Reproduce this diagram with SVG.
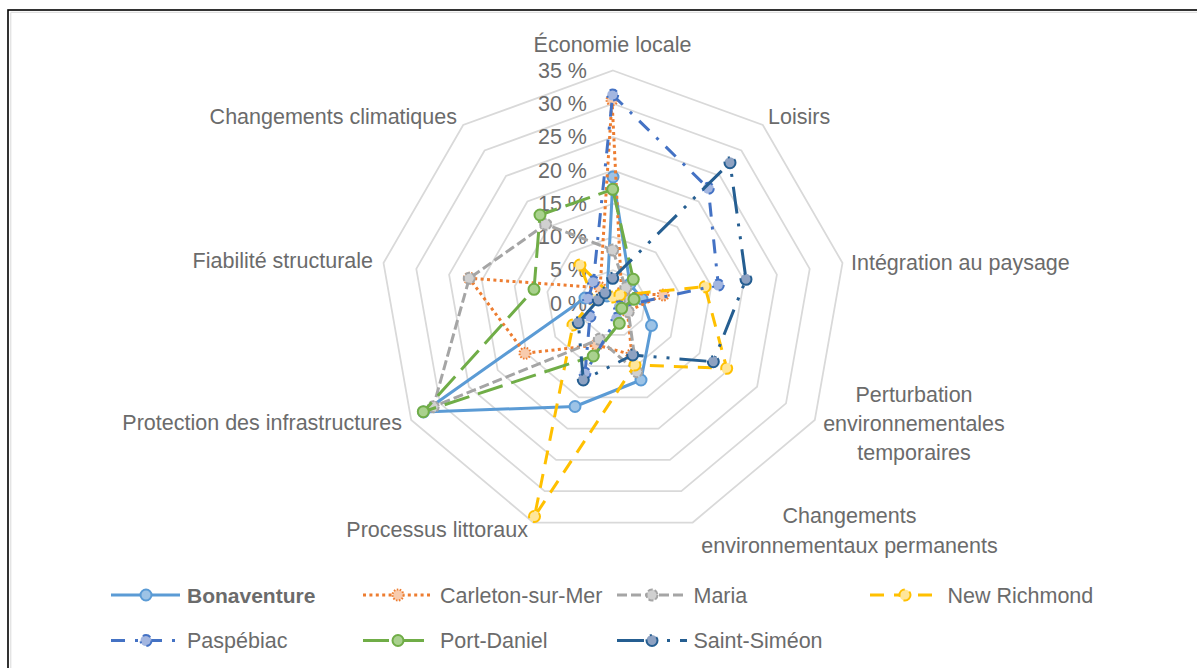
<svg xmlns="http://www.w3.org/2000/svg" width="1197" height="668" viewBox="0 0 1197 668">
<style>
.grid{fill:none;stroke:#D9D9D9;stroke-width:1.75;stroke-linejoin:miter}
.lbl{font-family:"Liberation Sans",Arial,sans-serif;font-size:21.5px;fill:#6b6b6b}
.pct{text-anchor:end}
.mid{text-anchor:middle}
.end{text-anchor:end}
.s{fill:none;stroke-width:3;stroke-linejoin:round}
.bon{stroke:#5B9BD5}
.car{stroke:#ED7D31;stroke-dasharray:3 3.4}
.mar{stroke:#A5A5A5;stroke-dasharray:10 4}
.nr{stroke:#FFC000;stroke-dasharray:14 10}
.pas{stroke:#4472C4;stroke-dasharray:14 10 3 10}
.pd{stroke:#70AD47;stroke-dasharray:26 9}
.ss{stroke:#255E91;stroke-dasharray:27 10 3 10 3 10}
.m{stroke-width:2}
.mbon{fill:#9DC3E6;stroke:#5B9BD5}
.mcar{fill:#F8CBAD;stroke:#ED7D31;stroke-dasharray:1.5 1.5}
.mmar{fill:#D0D0D0;stroke:#A5A5A5;stroke-dasharray:5 2}
.mnr{fill:#FFE699;stroke:#FFC000;stroke-dasharray:10 5}
.mpas{fill:#A3B6E0;stroke:#4472C4;stroke-dasharray:8 6 2 6}
.mpd{fill:#A9D18E;stroke:#70AD47}
.mss{fill:#8EA2C2;stroke:#255E91;stroke-dasharray:18 5 2 5}
</style>
<rect x="0" y="0" width="1197" height="668" fill="#ffffff"/>
<rect x="8" y="10" width="1200" height="700" fill="#ffffff" stroke="#000000" stroke-width="1.6"/>
<path d="M10.8,668 V12.3 H1197" fill="none" stroke="#D9D9D9" stroke-width="1"/>

<g id="grid">
<polygon class="grid" points="613,270.2 634.4,278 645.8,297.7 641.8,320.1 624.4,334.8 601.6,334.8 584.2,320.1 580.2,297.7 591.6,278"/>
<polygon class="grid" points="613,236.9 655.8,252.5 678.6,291.9 670.7,336.8 635.8,366.1 590.2,366.1 555.3,336.8 547.4,291.9 570.2,252.5"/>
<polygon class="grid" points="613,203.6 677.2,227 711.3,286.2 699.5,353.4 647.2,397.3 578.8,397.3 526.5,353.4 514.7,286.2 548.8,227"/>
<polygon class="grid" points="613,170.4 698.6,201.5 744.1,280.4 728.3,370.1 658.5,428.6 567.5,428.6 497.7,370.1 481.9,280.4 527.4,201.5"/>
<polygon class="grid" points="613,137.1 720,176 776.9,274.6 757.1,386.7 669.9,459.9 556.1,459.9 468.9,386.7 449.1,274.6 506,176"/>
<polygon class="grid" points="613,103.8 741.4,150.5 809.7,268.8 786,403.4 681.3,491.2 544.7,491.2 440,403.4 416.3,268.8 484.6,150.5"/>
<polygon class="grid" points="613,70.5 762.8,125 842.5,263 814.8,420 692.7,522.5 533.3,522.5 411.2,420 383.5,263 463.2,125"/>
</g>

<g id="scale" class="lbl pct">
<text x="587" y="310.7">0 %</text>
<text x="587" y="277.4">5 %</text>
<text x="587" y="244.1">10 %</text>
<text x="587" y="210.8">15 %</text>
<text x="587" y="177.5">20 %</text>
<text x="587" y="144.2">25 %</text>
<text x="587" y="110.9">30 %</text>
<text x="587" y="77.6">35 %</text>
</g>

<g id="axis-labels" class="lbl">
<text class="mid" x="612.5" y="51.5">Économie locale</text>
<text x="768" y="123.5">Loisirs</text>
<text x="851" y="269.5">Intégration au paysage</text>
<text class="mid" x="914" y="402">Perturbation</text>
<text class="mid" x="914" y="431">environnementales</text>
<text class="mid" x="914" y="460">temporaires</text>
<text class="mid" x="849.5" y="523">Changements</text>
<text class="mid" x="849.5" y="553">environnementaux permanents</text>
<text class="end" x="528" y="537">Processus littoraux</text>
<text class="end" x="402" y="430">Protection des infrastructures</text>
<text class="end" x="373" y="268">Fiabilité structurale</text>
<text class="end" x="457" y="124">Changements climatiques</text>
</g>

<g id="connectors">
<g id="series-bonaventure">
<polygon class="s bon" points="613,177 630,284 642,299 651.5,325.5 641,380 575,406.5 423.5,412 585,298 607,296"/>
<g class="m mbon">
<circle cx="613" cy="177" r="5.5"/><circle cx="630" cy="284" r="5.5"/><circle cx="642" cy="299" r="5.5"/><circle cx="651.5" cy="325.5" r="5.5"/><circle cx="641" cy="380" r="5.5"/><circle cx="575" cy="406.5" r="5.5"/><circle cx="423.5" cy="412" r="5.5"/><circle cx="585" cy="298" r="5.5"/><circle cx="607" cy="296" r="5.5"/>
</g>
</g>
<g id="series-carleton">
<polygon class="s car" points="612,100 621.6,292.8 663.3,295 627.4,311.3 631.8,354.7 596.7,345 525,353.3 469.3,278.3 600.1,287.7"/>
<g class="m mcar">
<circle cx="612" cy="100" r="5.5"/><circle cx="621.6" cy="292.8" r="5.5"/><circle cx="663.3" cy="295" r="5.5"/><circle cx="627.4" cy="311.3" r="5.5"/><circle cx="631.8" cy="354.7" r="5.5"/><circle cx="596.7" cy="345" r="5.5"/><circle cx="525" cy="353.3" r="5.5"/><circle cx="469.3" cy="278.3" r="5.5"/><circle cx="600.1" cy="287.7" r="5.5"/>
</g>
</g>
<g id="series-maria">
<polygon class="s mar" points="612.7,250 625.8,287.7 630,300 628.3,311.7 636.7,371.7 599.3,339.3 433.3,406.7 469.3,278.3 545.7,224.3"/>
<g class="m mmar">
<circle cx="612.7" cy="250" r="5.5"/><circle cx="625.8" cy="287.7" r="5.5"/><circle cx="630" cy="300" r="5.5"/><circle cx="628.3" cy="311.7" r="5.5"/><circle cx="636.7" cy="371.7" r="5.5"/><circle cx="599.3" cy="339.3" r="5.5"/><circle cx="433.3" cy="406.7" r="5.5"/><circle cx="469.3" cy="278.3" r="5.5"/><circle cx="545.7" cy="224.3" r="5.5"/>
</g>
</g>
<g id="series-newrichmond">
<polygon class="s nr" points="613,297 620,295 705,286.7 726.7,368.3 635,365 534.5,516.5 573,325 593.3,299.5 580,265"/>
<g class="m mnr">
<circle cx="613" cy="297" r="5.5"/><circle cx="620" cy="295" r="5.5"/><circle cx="705" cy="286.7" r="5.5"/><circle cx="726.7" cy="368.3" r="5.5"/><circle cx="635" cy="365" r="5.5"/><circle cx="534.5" cy="516.5" r="5.5"/><circle cx="573" cy="325" r="5.5"/><circle cx="593.3" cy="299.5" r="5.5"/><circle cx="580" cy="265" r="5.5"/>
</g>
</g>
<g id="series-paspebiac">
<polygon class="s pas" points="612.7,95 708.3,188.3 718.3,285 619.4,306.7 616.7,318.3 585,373.3 590,316.3 588.3,298.3 593.3,281.7"/>
<g class="m mpas">
<circle cx="612.7" cy="95" r="5.5"/><circle cx="708.3" cy="188.3" r="5.5"/><circle cx="718.3" cy="285" r="5.5"/><circle cx="619.4" cy="306.7" r="5.5"/><circle cx="616.7" cy="318.3" r="5.5"/><circle cx="585" cy="373.3" r="5.5"/><circle cx="590" cy="316.3" r="5.5"/><circle cx="588.3" cy="298.3" r="5.5"/><circle cx="593.3" cy="281.7" r="5.5"/>
</g>
</g>
<g id="series-portdaniel">
<polygon class="s pd" points="612.7,189.3 633.3,279.3 634,299.3 621.7,308.3 619.3,323.3 593.3,356 423.3,411.7 534,289.3 540,215"/>
<g class="m mpd">
<circle cx="612.7" cy="189.3" r="5.5"/><circle cx="633.3" cy="279.3" r="5.5"/><circle cx="634" cy="299.3" r="5.5"/><circle cx="621.7" cy="308.3" r="5.5"/><circle cx="619.3" cy="323.3" r="5.5"/><circle cx="593.3" cy="356" r="5.5"/><circle cx="423.3" cy="411.7" r="5.5"/><circle cx="534" cy="289.3" r="5.5"/><circle cx="540" cy="215" r="5.5"/>
</g>
</g>
<g id="series-saintsimeon">
<polygon class="s ss" points="612.7,278.3 730,162.7 746,279.3 713.3,361.7 632.7,355 583.3,380 578.3,322.7 598.3,300 605,293"/>
<g class="m mss">
<circle cx="612.7" cy="278.3" r="5.5"/><circle cx="730" cy="162.7" r="5.5"/><circle cx="746" cy="279.3" r="5.5"/><circle cx="713.3" cy="361.7" r="5.5"/><circle cx="632.7" cy="355" r="5.5"/><circle cx="583.3" cy="380" r="5.5"/><circle cx="578.3" cy="322.7" r="5.5"/><circle cx="598.3" cy="300" r="5.5"/><circle cx="605" cy="293" r="5.5"/>
</g>
</g>
</g>

<g id="legend">
<g id="leg-bonaventure">
<line class="s bon" x1="111" y1="595" x2="180" y2="595"/>
<circle class="m mbon" cx="146" cy="595" r="5.5"/>
<text class="lbl" x="187" y="602.5" font-weight="bold" style="font-size:21px">Bonaventure</text>
</g>
<g id="leg-carleton">
<line class="s car" x1="363" y1="595" x2="433" y2="595"/>
<circle class="m mcar" cx="398" cy="595" r="5.5"/>
<text class="lbl" x="440" y="602.5">Carleton-sur-Mer</text>
</g>
<g id="leg-maria">
<line class="s mar" x1="617" y1="595" x2="687" y2="595"/>
<circle class="m mmar" cx="652" cy="595" r="5.5"/>
<text class="lbl" x="693.5" y="602.5">Maria</text>
</g>
<g id="leg-newrichmond">
<line class="s nr" x1="870" y1="595" x2="940" y2="595"/>
<circle class="m mnr" cx="905" cy="595" r="5.5"/>
<text class="lbl" x="947.5" y="602.5">New Richmond</text>
</g>
<g id="leg-paspebiac">
<line class="s pas" x1="111" y1="640.5" x2="180" y2="640.5"/>
<circle class="m mpas" cx="146" cy="640.5" r="5.5"/>
<text class="lbl" x="187" y="647.5">Paspébiac</text>
</g>
<g id="leg-portdaniel">
<line class="s pd" x1="363" y1="640.5" x2="433" y2="640.5"/>
<circle class="m mpd" cx="398" cy="640.5" r="5.5"/>
<text class="lbl" x="440" y="647.5">Port-Daniel</text>
</g>
<g id="leg-saintsimeon">
<line class="s ss" x1="617" y1="640.5" x2="687" y2="640.5"/>
<circle class="m mss" cx="652" cy="640.5" r="5.5"/>
<text class="lbl" x="693.5" y="647.5">Saint-Siméon</text>
</g>
</g>
</svg>
